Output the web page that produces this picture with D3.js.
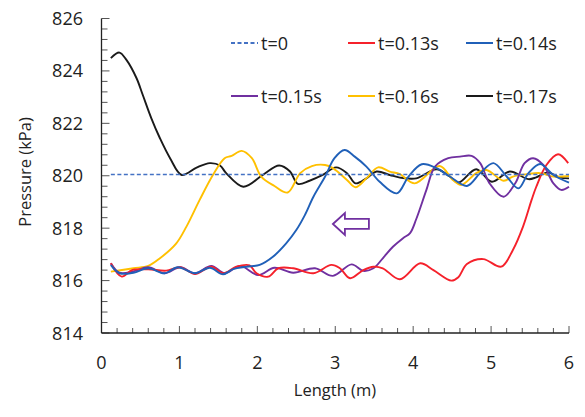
<!DOCTYPE html>
<html>
<head>
<meta charset="utf-8">
<script src="https://cdn.jsdelivr.net/npm/d3@7/dist/d3.min.js"></script>
<style>
  html, body { margin: 0; padding: 0; background: #fff; }
  svg text { font-family: "Open Sans", "Noto Sans", sans-serif; fill: #222; }
</style>
</head>
<body>
<svg id="chart" width="585" height="417"></svg>
<script>
// Pressure along the pipe at successive times (x in m, p in kPa)
const xTicks = [0, 1, 2, 3, 4, 5, 6];
const yTicks = [814, 816, 818, 820, 822, 824, 826];

const seriesNames = ["t=0", "t=0.13s", "t=0.14s", "t=0.15s", "t=0.16s", "t=0.17s"];
const seriesColors = ["#4472C4", "#F5212B", "#2060B8", "#7030A0", "#FFC000", "#1A1A1A"];

const p0 = [[0.12, 820.05], [6.0, 820.05]];

const p013 = [[0.12, 816.66], [0.26, 816.15], [0.39, 816.40], [0.60, 816.43], [0.83, 816.38], [1.01, 816.51],
  [1.20, 816.25], [1.41, 816.53], [1.56, 816.28], [1.73, 816.53], [1.90, 816.58], [1.99, 816.28],
  [2.14, 816.15], [2.27, 816.47], [2.46, 816.47], [2.72, 816.28], [2.95, 816.60], [3.06, 816.47],
  [3.19, 816.09], [3.36, 816.40], [3.49, 816.53], [3.61, 816.47], [3.83, 816.05], [4.09, 816.66],
  [4.26, 816.40], [4.49, 816.00], [4.58, 816.13], [4.69, 816.63], [4.90, 816.82], [5.13, 816.53],
  [5.28, 817.17], [5.41, 818.06], [5.52, 819.08], [5.58, 819.58], [5.71, 820.41], [5.86, 820.82],
  [5.99, 820.48]];

const p014 = [[0.12, 816.60], [0.23, 816.28], [0.41, 816.30], [0.60, 816.47], [0.81, 816.28], [0.98, 816.51],
  [1.20, 816.28], [1.39, 816.49], [1.56, 816.24], [1.69, 816.44], [1.86, 816.53], [2.03, 816.60],
  [2.20, 816.91], [2.37, 817.42], [2.50, 817.93], [2.61, 818.50], [2.72, 819.20], [2.87, 819.97],
  [2.99, 820.67], [3.12, 820.98], [3.25, 820.73], [3.40, 820.35], [3.57, 819.77], [3.79, 819.33],
  [3.94, 819.97], [4.11, 820.44], [4.30, 820.29], [4.47, 819.97], [4.69, 819.61], [4.86, 820.10],
  [5.03, 820.48], [5.20, 819.97], [5.35, 819.52], [5.48, 820.10], [5.63, 820.45], [5.80, 820.03],
  [6.0, 819.74]];

const p015 = [[0.12, 816.66], [0.23, 816.30], [0.41, 816.35], [0.60, 816.51], [0.81, 816.28], [1.01, 816.51],
  [1.20, 816.28], [1.41, 816.56], [1.58, 816.28], [1.78, 816.56], [2.01, 816.21], [2.22, 816.49],
  [2.46, 816.30], [2.74, 816.47], [2.97, 816.18], [3.21, 816.62], [3.36, 816.37], [3.49, 816.47],
  [3.61, 816.85], [3.74, 817.29], [3.87, 817.62], [3.96, 817.81], [4.04, 818.35], [4.17, 819.46],
  [4.28, 820.35], [4.45, 820.67], [4.60, 820.73], [4.75, 820.76], [4.86, 820.48], [4.98, 819.71],
  [5.16, 819.20], [5.31, 819.71], [5.43, 820.48], [5.54, 820.67], [5.67, 820.41], [5.80, 819.71],
  [5.90, 819.46], [6.0, 819.58]];

const p016 = [[0.12, 816.34], [0.41, 816.47], [0.60, 816.56], [0.75, 816.85], [0.96, 817.42], [1.09, 818.06],
  [1.26, 819.08], [1.43, 820.03], [1.58, 820.67], [1.67, 820.76], [1.80, 820.95], [1.93, 820.67],
  [2.05, 819.97], [2.22, 819.61], [2.39, 819.36], [2.55, 820.10], [2.70, 820.37], [2.87, 820.41],
  [2.97, 820.29], [3.15, 819.84], [3.26, 819.56], [3.40, 819.90], [3.55, 820.32], [3.70, 820.16],
  [3.83, 820.06], [4.02, 819.71], [4.34, 820.37], [4.51, 819.84], [4.62, 819.65], [4.81, 820.10],
  [4.94, 820.22], [5.16, 819.81], [5.28, 819.97], [5.46, 820.06], [5.63, 820.10], [5.80, 819.97],
  [6.0, 819.99]];

const p017 = [[0.12, 824.49], [0.23, 824.70], [0.32, 824.42], [0.45, 823.72], [0.53, 823.08], [0.64, 822.19],
  [0.75, 821.43], [0.88, 820.67], [1.03, 820.03], [1.22, 820.31], [1.39, 820.48], [1.52, 820.39],
  [1.60, 820.10], [1.82, 819.58], [2.07, 820.03], [2.28, 820.39], [2.42, 820.16], [2.52, 819.69],
  [2.67, 819.81], [2.84, 820.03], [3.01, 820.32], [3.15, 820.10], [3.26, 819.71], [3.40, 819.90],
  [3.53, 820.16], [3.70, 820.03], [3.83, 819.93], [4.04, 819.90], [4.30, 820.25], [4.47, 819.97],
  [4.58, 819.74], [4.81, 820.25], [5.01, 819.77], [5.24, 820.16], [5.48, 819.87], [5.58, 819.94],
  [5.73, 820.13], [5.88, 819.93], [6.0, 819.90]];

const seriesData = [p0, p013, p014, p015, p016, p017];

const svg = d3.select("#chart");
const plotLeft = 101.5, plotRight = 569, plotTop = 18.5, plotBottom = 333;

const x = d3.scaleLinear().domain([0, 6]).range([plotLeft, plotRight]);
const y = d3.scaleLinear().domain([814, 826]).range([plotBottom, plotTop]);

// minor ticks (inside the plot)
const xMinor = d3.range(0, 6.0001, 0.2);
const yMinor = d3.range(814, 826.0001, 0.4);

const axisG = svg.append("g");
axisG.selectAll("line.xm").data(xMinor).enter().append("line")
  .attr("x1", d => x(d)).attr("x2", d => x(d))
  .attr("y1", plotBottom).attr("y2", d => Math.abs(d - Math.round(d)) < 1e-6 ? plotBottom - 7 : plotBottom - 5)
  .attr("stroke", "#555").attr("stroke-width", 1);
axisG.selectAll("line.ym").data(yMinor).enter().append("line")
  .attr("y1", d => y(d)).attr("y2", d => y(d))
  .attr("x1", plotLeft).attr("x2", d => Math.abs((d - 814) / 2 - Math.round((d - 814) / 2)) < 1e-6 ? plotLeft + 8 : plotLeft + 6)
  .attr("stroke", "#555").attr("stroke-width", 1);

axisG.append("line").attr("x1", plotLeft).attr("x2", plotLeft).attr("y1", plotTop).attr("y2", plotBottom)
  .attr("stroke", "#222").attr("stroke-width", 1.3);
axisG.append("line").attr("x1", plotLeft).attr("x2", plotRight).attr("y1", plotBottom).attr("y2", plotBottom)
  .attr("stroke", "#222").attr("stroke-width", 1.3);

// tick labels
axisG.selectAll("text.xl").data(xTicks).enter().append("text")
  .attr("x", d => x(d)).attr("y", 369)
  .attr("text-anchor", "middle").attr("font-size", 18).text(d => d);
axisG.selectAll("text.yl").data(yTicks).enter().append("text")
  .attr("x", 83).attr("y", d => y(d) + 6.5)
  .attr("text-anchor", "end").attr("font-size", 18).text(d => d);

// axis titles
svg.append("text").attr("x", 335).attr("y", 396).attr("text-anchor", "middle")
  .attr("font-size", 16.5).text("Length (m)");
svg.append("text").attr("transform", "translate(31,172) rotate(-90)").attr("text-anchor", "middle")
  .attr("font-size", 16.5).text("Pressure (kPa)");

// series lines
const line = d3.line().x(d => x(d[0])).y(d => y(d[1])).curve(d3.curveCatmullRom.alpha(0.5));
const drawOrder = [5, 4, 3, 1, 2, 0];
drawOrder.forEach(i => {
  svg.append("path").datum(seriesData[i])
    .attr("d", line)
    .attr("fill", "none")
    .attr("stroke", seriesColors[i])
    .attr("stroke-width", i === 0 ? 1.6 : 1.9)
    .attr("stroke-dasharray", i === 0 ? "4,2.5" : null)
    .attr("stroke-linejoin", "round");
});

// direction arrow (wave front moving toward x = 0)
const tipX = x(2.97), tipY = y(818.16);
const arrowPts = [[0, 0], [12, -11], [12, -5], [36, -5], [36, 5], [12, 5], [12, 11]];
svg.append("polygon")
  .attr("points", arrowPts.map(p => [tipX + p[0], tipY + p[1]].join(",")).join(" "))
  .attr("fill", "#fff").attr("stroke", "#7030A0").attr("stroke-width", 1.8);

// legend: two rows of three
const legX = [231, 348, 466];
const legY = [43, 96];
seriesNames.forEach((name, i) => {
  const gx = legX[i % 3], gy = legY[Math.floor(i / 3)];
  svg.append("line").attr("x1", gx).attr("x2", gx + 27).attr("y1", gy).attr("y2", gy)
    .attr("stroke", seriesColors[i]).attr("stroke-width", i === 0 ? 1.8 : 2)
    .attr("stroke-dasharray", i === 0 ? "4,2.5" : null);
  svg.append("text").attr("x", gx + 30).attr("y", gy + 6.5).attr("font-size", 18).text(name);
});
</script>
</body>
</html>
